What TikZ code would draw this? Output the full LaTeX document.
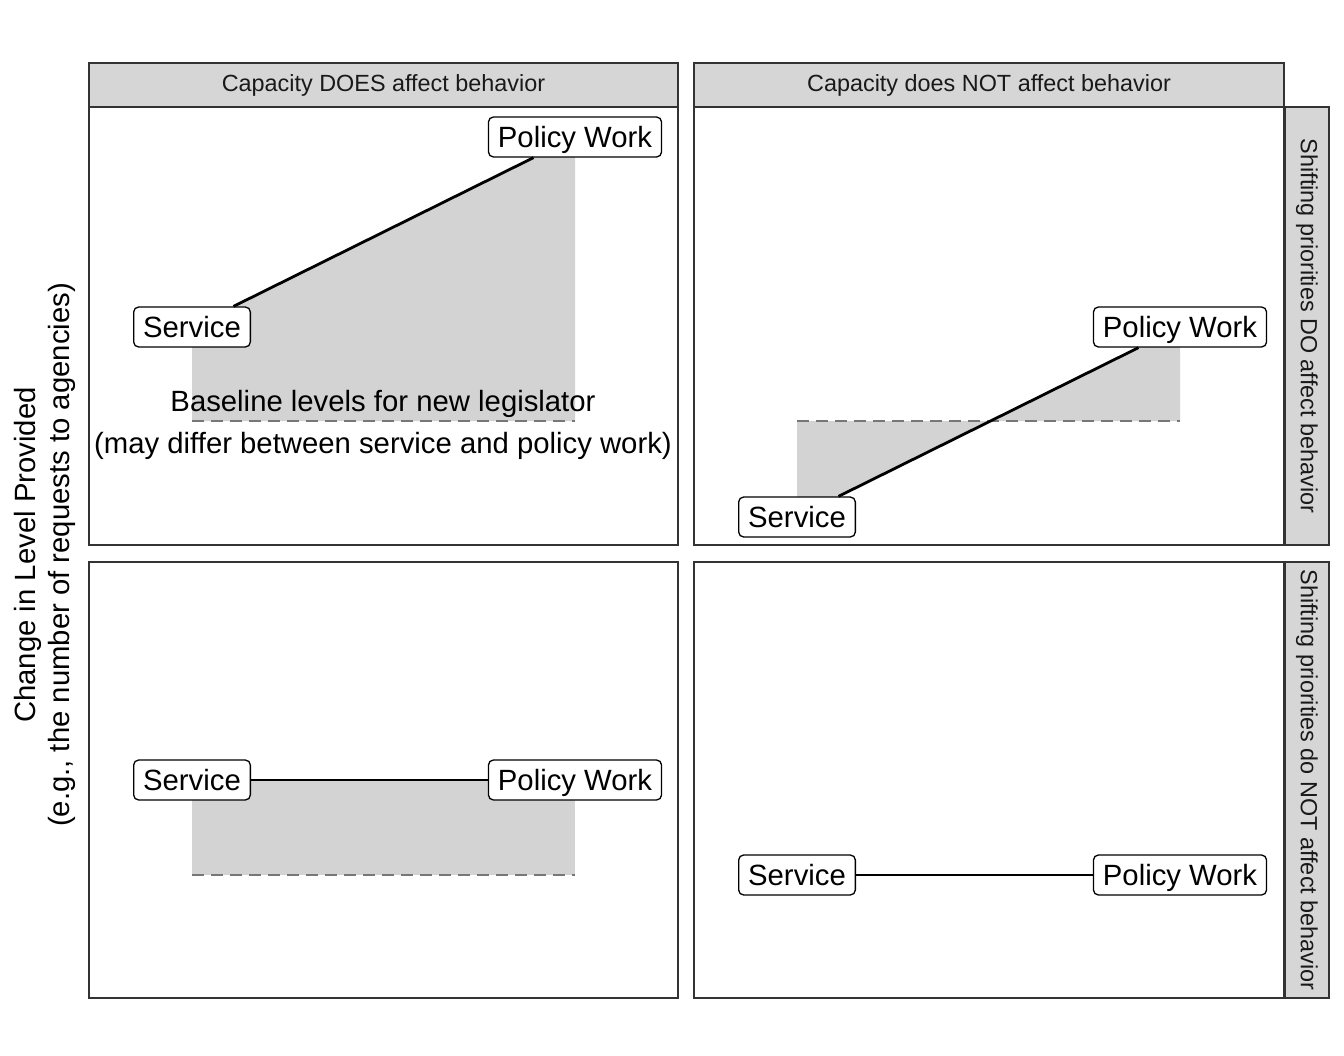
\documentclass[tikz,border=0pt]{standalone}
\usepackage{fontspec}
\setmainfont{Liberation Sans}
\usetikzlibrary{positioning}

\definecolor{stripgray}{HTML}{D6D6D6}
\definecolor{areagray}{HTML}{D3D3D3}
\definecolor{framegray}{HTML}{333333}
\definecolor{dashgray}{HTML}{777777}

\tikzset{
  panel/.style={draw=framegray, line width=1.1pt},
  strip/.style={draw=framegray, fill=stripgray, line width=1.1pt},
  striptext/.style={text=black!90, font=\fontsize{23.4}{28}\selectfont},
  area/.style={fill=areagray},
  basedash/.style={draw=dashgray, dash pattern=on 12pt off 7pt, line width=2.6pt},
  trend/.style={line width=2.8pt},
  lab/.style={draw, fill=white, rounded corners=5pt, line width=1.3pt, inner xsep=9.5pt, inner ysep=9.5pt,
    text height=21pt, text depth=0pt, font=\fontsize{29.3}{35}\selectfont}
}

\begin{document}
\begin{tikzpicture}[x=1pt, y=-1pt]
    % fix the page size
    \useasboundingbox (0,0) rectangle (1344,1056);

    % Shaded changes from the baseline
    \path[area] (192,421) -- (192,327) -- (575,137) -- (575,421) -- cycle;
    \path[area] (797,421) -- (797,517) -- (1180,327) -- (1180,421) -- cycle;
    \path[area] (192,875) -- (192,780) -- (575,780) -- (575,875) -- cycle;

    % Baselines
    \draw[basedash] (192,421) -- (575,421);
    \draw[basedash] (797,421) -- (1180,421);
    \draw[basedash] (192,875) -- (575,875);
    \draw[basedash] (797,875) -- (1180,875);

    \node[font=\fontsize{29.3}{42}\selectfont, align=center] (basenote) at (383,425)
        {Baseline levels for new legislator\\(may differ between service and policy work)};

    % Service / policy labels
    \node[lab] (servA) at (192,327) {Service};
    \node[lab] (polA) at (575,137) {Policy Work};
    \node[lab] (servB) at (797,517) {Service};
    \node[lab] (polB) at (1180,327) {Policy Work};
    \node[lab] (servC) at (192,780) {Service};
    \node[lab] (polC) at (575,780) {Policy Work};
    \node[lab] (servD) at (797,875) {Service};
    \node[lab] (polD) at (1180,875) {Policy Work};

    % Lines between labels
    \draw[trend] (servA) -- (polA);
    \draw[trend] (servB) -- (polB);
    \draw[trend] (servC) -- (polC);
    \draw[trend] (servD) -- (polD);

    % Panels
    \draw[panel] (89,107) rectangle (678,545);
    \draw[panel] (694,107) rectangle (1284,545);
    \draw[panel] (89,562) rectangle (678,998);
    \draw[panel] (694,562) rectangle (1284,998);

    % Strips
    \draw[strip] (89,63) rectangle (678,107);
    \draw[strip] (694,63) rectangle (1284,107);
    \draw[strip] (1285,107) rectangle (1329,545);
    \draw[strip] (1285,562) rectangle (1329,998);

    \node[striptext] (colA) at (383.5,85) {Capacity DOES affect behavior};
    \node[striptext] (colB) at (989,85) {Capacity does NOT affect behavior};
    \node[striptext, rotate=-90] (rowA) at (1307,326) {Shifting priorities DO affect behavior};
    \node[striptext, rotate=-90] (rowB) at (1307,780) {Shifting priorities do NOT affect behavior};

    % Axis title
    \node[font=\fontsize{29.3}{34}\selectfont, align=center, rotate=90] (ytitle) at (45,555)
        {Change in Level Provided\\(e.g., the number of requests to agencies)};
\end{tikzpicture}
\end{document}
